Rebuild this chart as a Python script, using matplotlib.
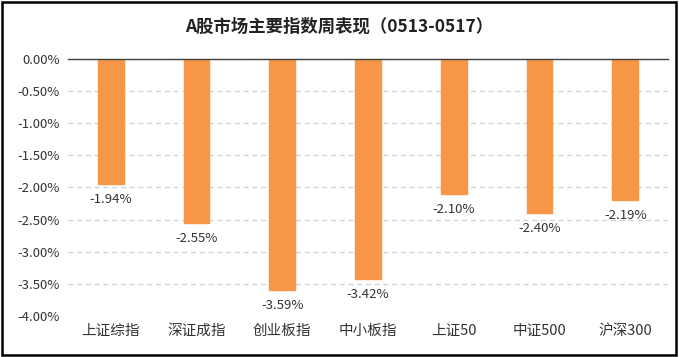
import numpy as np
import matplotlib.pyplot as plt
from matplotlib.patches import Rectangle

plt.rcParams['font.family'] = ['Noto Sans CJK SC', 'DejaVu Sans']
plt.rcParams['axes.unicode_minus'] = False

# 数据
indices = ['上证综指', '深证成指', '创业板指', '中小板指', '上证50', '中证500', '沪深300']
weekly_change = [-1.94, -2.55, -3.59, -3.42, -2.10, -2.40, -2.19]
yticks = [0.0, -0.5, -1.0, -1.5, -2.0, -2.5, -3.0, -3.5, -4.0]

fig = plt.figure(figsize=(6.79, 3.57), dpi=100)
ax = fig.add_axes([0.100, 0.115, 0.884, 0.720])

x = np.arange(len(indices))
bars = ax.bar(x, weekly_change, width=0.3, color='#F79646', edgecolor='#F79646', zorder=3)

for xi, v in zip(x, weekly_change):
    ax.text(xi, v - 0.14, f'{v:.2f}%', ha='center', va='top', fontsize=9.5, color='#333333')

ax.set_ylim(-4.0, 0.0)
ax.set_xlim(-0.5, len(indices) - 0.5)
ax.set_yticks(yticks)
ax.set_yticklabels([f'{t:.2f}%' for t in yticks], fontsize=9.5, color='#333333')
ax.set_xticks(x)
ax.set_xticklabels(indices, fontsize=10.5, color='#333333')
ax.tick_params(length=0, pad=6)

ax.grid(True, axis='y', linestyle=(0, (4, 3)), color='#D0D0D0', linewidth=0.9, zorder=0)
for s in ['left', 'right', 'bottom']:
    ax.spines[s].set_visible(False)
ax.spines['top'].set_color('#404040')
ax.spines['top'].set_linewidth(1.0)
ax.spines['top'].set_zorder(4)

fig.text(0.5, 0.925, 'A股市场主要指数周表现（0513-0517）', ha='center', va='center',
         fontsize=12.5, fontweight='bold', color='#222222')

# 外框
fig.patches.append(Rectangle((0.003, 0.006), 0.992, 0.988, transform=fig.transFigure,
                             fill=False, edgecolor='black', linewidth=1.8))

plt.savefig('out.png', dpi=100)
